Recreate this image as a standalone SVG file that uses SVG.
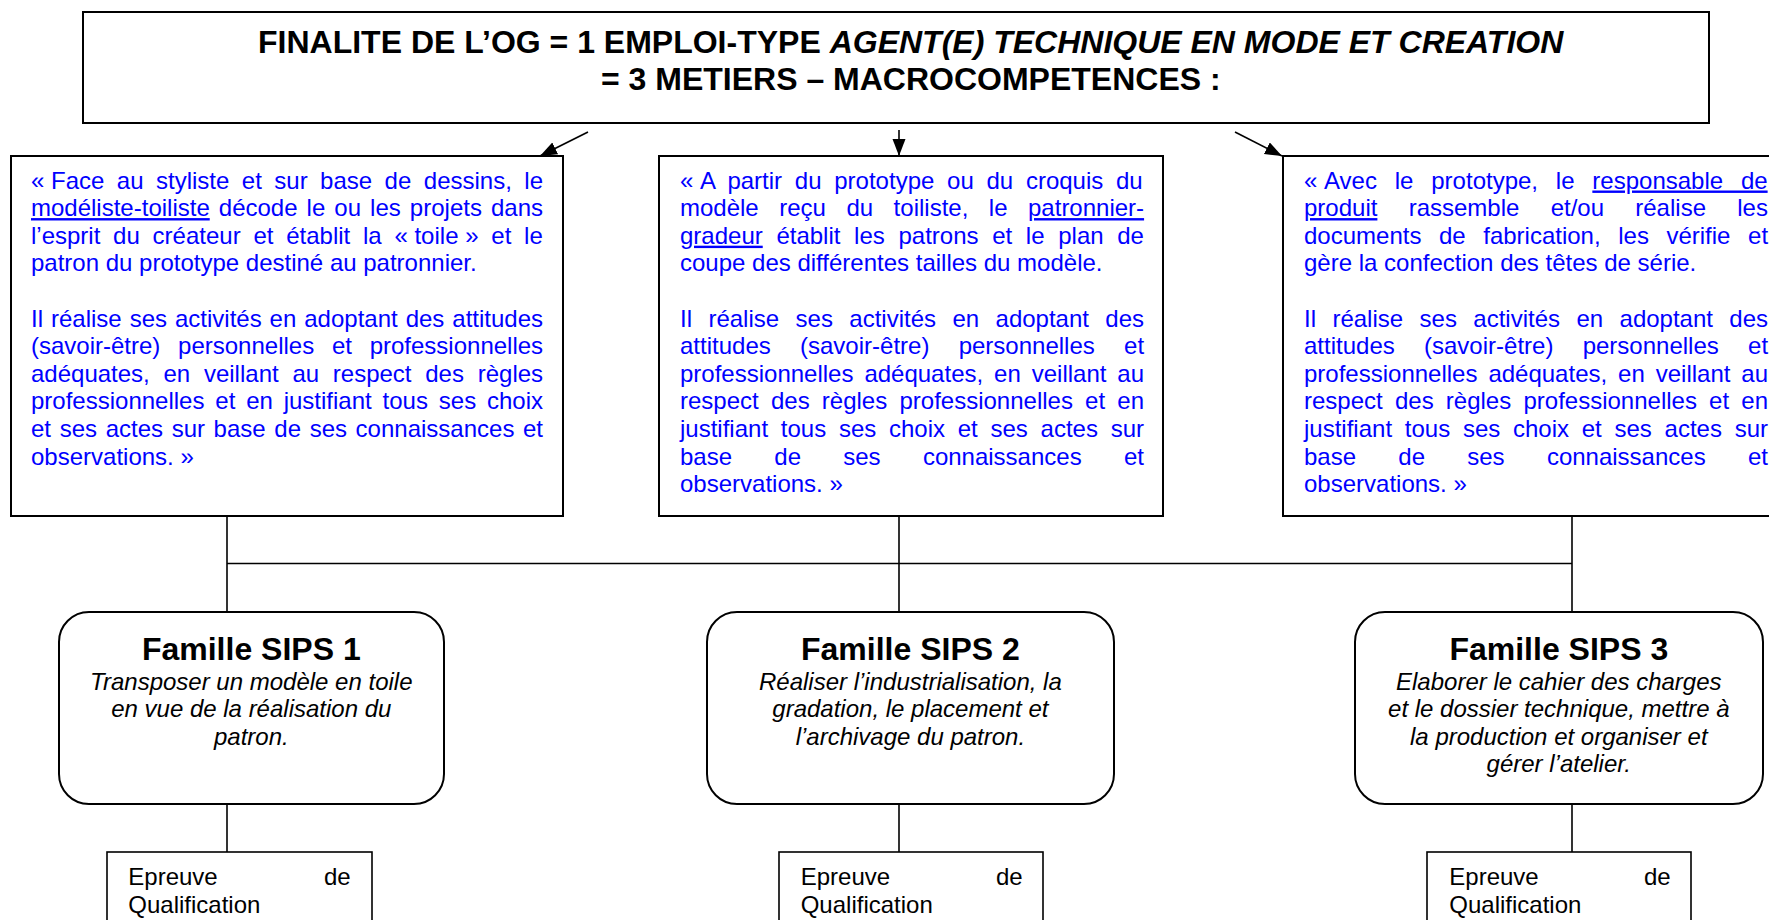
<svg xmlns="http://www.w3.org/2000/svg" width="1769" height="920" viewBox="0 0 1769 920">
<defs>
<style>
.box{fill:#fff;stroke:#000;stroke-width:2}
.rbox{fill:#fff;stroke:#000;stroke-width:2}
.ebox{fill:#fff;stroke:#000;stroke-width:1.6}
.conn{stroke:#000;stroke-width:1.6;fill:none}
.arr{stroke:#000;stroke-width:1.6;fill:none;marker-end:url(#ah)}
.title{font-family:"Liberation Sans",Arial,sans-serif;font-size:32px;font-weight:bold;fill:#000}
.body{font-family:"Liberation Sans",Arial,sans-serif;font-size:24px;fill:#0000FF}
.u{text-decoration:underline}
.fam{font-family:"Liberation Sans",Arial,sans-serif;font-size:32px;font-weight:bold;fill:#000;text-anchor:middle}
.it{font-family:"Liberation Sans",Arial,sans-serif;font-size:24px;font-style:italic;fill:#000;text-anchor:middle}
.ep{font-family:"Liberation Sans",Arial,sans-serif;font-size:24px;fill:#000}
</style>
<marker id="ah" markerUnits="userSpaceOnUse" markerWidth="18" markerHeight="14" refX="17" refY="6.5" orient="auto">
<path d="M0,0 L17,6.5 L0,13 z" fill="#000"/>
</marker>
</defs>
<rect width="1769" height="920" fill="#fff"/>

<g id="connectors">
<line class="arr" x1="588" y1="132" x2="540" y2="156"/>
<line class="arr" x1="899" y1="130" x2="899" y2="156"/>
<line class="arr" x1="1235" y1="132" x2="1282" y2="156"/>
<line class="conn" x1="227" y1="516" x2="227" y2="612"/>
<line class="conn" x1="899" y1="516" x2="899" y2="612"/>
<line class="conn" x1="1572" y1="516" x2="1572" y2="612"/>
<line class="conn" x1="227" y1="563.5" x2="1572" y2="563.5"/>
<line class="conn" x1="227" y1="804" x2="227" y2="852"/>
<line class="conn" x1="899" y1="804" x2="899" y2="852"/>
<line class="conn" x1="1572" y1="804" x2="1572" y2="852"/>
</g>

<g id="title">
<rect class="box" x="83" y="12" width="1626" height="111"/>
<text class="title" x="258" y="52.7">FINALITE DE L’OG = 1 EMPLOI-TYPE <tspan font-style="italic">AGENT(E) TECHNIQUE EN MODE ET CREATION</tspan></text>
<text class="title" x="601" y="90">= 3 METIERS – MACROCOMPETENCES :</text>
</g>

<g id="metier1">
<rect class="box" x="11" y="156" width="552" height="360"/>
<text class="body" x="31" y="188.5" word-spacing="5.8">«<tspan dx="6.67">Face au styliste et sur base de dessins, le</tspan></text>
<text class="body" x="31" y="216.1" word-spacing="2.4"><tspan class="u">modéliste-toiliste</tspan> décode le ou les projets dans</text>
<text class="body" x="31" y="243.7" word-spacing="6.1">l’esprit du créateur et établit la «<tspan dx="6.67">toile</tspan><tspan dx="6.67">»</tspan> et le</text>
<text class="body" x="31" y="271.3">patron du prototype destiné au patronnier.</text>
<text class="body" x="31" y="326.5" word-spacing="1.3">Il réalise ses activités en adoptant des attitudes</text>
<text class="body" x="31" y="354.1" word-spacing="11.07">(savoir-être) personnelles et professionnelles</text>
<text class="body" x="31" y="381.7" word-spacing="7.07">adéquates, en veillant au respect des règles</text>
<text class="body" x="31" y="409.3" word-spacing="4.18">professionnelles et en justifiant tous ses choix</text>
<text class="body" x="31" y="436.9" word-spacing="1.97">et ses actes sur base de ses connaissances et</text>
<text class="body" x="31" y="464.5">observations.<tspan dx="6.67">»</tspan></text>
</g>

<g id="metier2">
<rect class="box" x="659" y="156" width="504" height="360"/>
<text class="body" x="680" y="188.5" word-spacing="6.06">«<tspan dx="6.67">A partir du prototype ou du croquis du</tspan></text>
<text class="body" x="680" y="216.1" word-spacing="13.84">modèle reçu du toiliste, le <tspan class="u">patronnier-</tspan></text>
<text class="body" x="680" y="243.7" word-spacing="7.0"><tspan class="u">gradeur</tspan> établit les patrons et le plan de</text>
<text class="body" x="680" y="271.3">coupe des différentes tailles du modèle.</text>
<text class="body" x="680" y="326.5" word-spacing="9.75">Il réalise ses activités en adoptant des</text>
<text class="body" x="680" y="354.1" word-spacing="22.63">attitudes (savoir-être) personnelles et</text>
<text class="body" x="680" y="381.7" word-spacing="4.27">professionnelles adéquates, en veillant au</text>
<text class="body" x="680" y="409.3" word-spacing="5.56">respect des règles professionnelles et en</text>
<text class="body" x="680" y="436.9" word-spacing="6.07">justifiant tous ses choix et ses actes sur</text>
<text class="body" x="680" y="464.5" word-spacing="35.6">base de ses connaissances et</text>
<text class="body" x="680" y="492.1">observations.<tspan dx="6.67">»</tspan></text>
</g>

<g id="metier3">
<rect class="box" x="1283" y="156" width="520" height="360"/>
<text class="body" x="1304" y="188.5" word-spacing="11.16">«<tspan dx="6.67">Avec le prototype, le <tspan class="u">responsable de</tspan></tspan></text>
<text class="body" x="1304" y="216.1" word-spacing="24.6"><tspan class="u">produit</tspan> rassemble et/ou réalise les</text>
<text class="body" x="1304" y="243.7" word-spacing="10.9">documents de fabrication, les vérifie et</text>
<text class="body" x="1304" y="271.3">gère la confection des têtes de série.</text>
<text class="body" x="1304" y="326.5" word-spacing="9.75">Il réalise ses activités en adoptant des</text>
<text class="body" x="1304" y="354.1" word-spacing="22.63">attitudes (savoir-être) personnelles et</text>
<text class="body" x="1304" y="381.7" word-spacing="4.27">professionnelles adéquates, en veillant au</text>
<text class="body" x="1304" y="409.3" word-spacing="5.56">respect des règles professionnelles et en</text>
<text class="body" x="1304" y="436.9" word-spacing="6.07">justifiant tous ses choix et ses actes sur</text>
<text class="body" x="1304" y="464.5" word-spacing="35.6">base de ses connaissances et</text>
<text class="body" x="1304" y="492.1">observations.<tspan dx="6.67">»</tspan></text>
</g>

<g id="sips1">
<rect class="rbox" x="59" y="612" width="385" height="192" rx="30" ry="30"/>
<text class="fam" x="251.3" y="660">Famille SIPS 1</text>
<text class="it" x="251.3" y="690">Transposer un modèle en toile</text>
<text class="it" x="251.3" y="717.3">en vue de la réalisation du</text>
<text class="it" x="251.3" y="744.6">patron.</text>
</g>

<g id="sips2">
<rect class="rbox" x="707" y="612" width="407" height="192" rx="30" ry="30"/>
<text class="fam" x="910.4" y="660">Famille SIPS 2</text>
<text class="it" x="910.4" y="690">Réaliser l’industrialisation, la</text>
<text class="it" x="910.4" y="717.3">gradation, le placement et</text>
<text class="it" x="910.4" y="744.6">l’archivage du patron.</text>
</g>

<g id="sips3">
<rect class="rbox" x="1355" y="612" width="408" height="192" rx="30" ry="30"/>
<text class="fam" x="1558.8" y="660">Famille SIPS 3</text>
<text class="it" x="1558.8" y="690">Elaborer le cahier des charges</text>
<text class="it" x="1558.8" y="717.3">et le dossier technique, mettre à</text>
<text class="it" x="1558.8" y="744.6">la production et organiser et</text>
<text class="it" x="1558.8" y="771.9">gérer l’atelier.</text>
</g>

<g id="epreuve1">
<rect class="ebox" x="107" y="852" width="265" height="100"/>
<text class="ep" x="128.3" y="885">Epreuve</text>
<text class="ep" x="350.7" y="885" text-anchor="end">de</text>
<text class="ep" x="128.3" y="912.6">Qualification</text>
</g>

<g id="epreuve2">
<rect class="ebox" x="779" y="852" width="264" height="100"/>
<text class="ep" x="800.7" y="885">Epreuve</text>
<text class="ep" x="1022.7" y="885" text-anchor="end">de</text>
<text class="ep" x="800.7" y="912.6">Qualification</text>
</g>

<g id="epreuve3">
<rect class="ebox" x="1427" y="852" width="264" height="100"/>
<text class="ep" x="1449.3" y="885">Epreuve</text>
<text class="ep" x="1670.7" y="885" text-anchor="end">de</text>
<text class="ep" x="1449.3" y="912.6">Qualification</text>
</g>
</svg>
